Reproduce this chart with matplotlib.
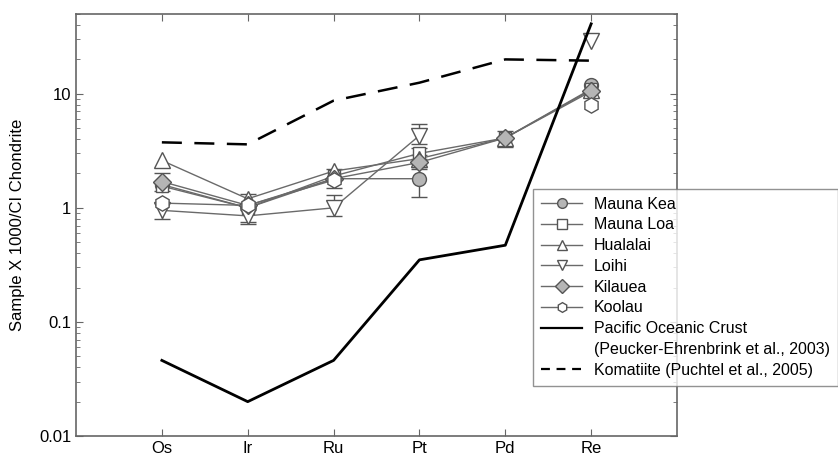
import numpy as np
import matplotlib.pyplot as plt
from matplotlib.lines import Line2D

plt.rcParams['font.family'] = ['Liberation Sans', 'DejaVu Sans']

# Data
elements = ['Os', 'Ir', 'Ru', 'Pt', 'Pd', 'Re']

mauna_kea = [1.6, 1.0, 1.8, 1.8, np.nan, 12.0]
mauna_loa = [1.55, 1.0, 1.9, 3.0, 4.1, 11.0]
hualalai = [2.6, 1.2, 2.1, 2.7, 4.1, 10.8]
loihi = [0.95, 0.85, 1.0, 4.3, np.nan, 29.0]
kilauea = [1.7, 1.05, 1.8, 2.5, 4.1, 10.5]
koolau = [1.1, 1.05, 1.75, np.nan, np.nan, 7.9]

# error bar bounds (low, high), nan where no bar
mauna_kea_lo = [np.nan, np.nan, np.nan, 1.25, np.nan, np.nan]
mauna_kea_hi = [np.nan, np.nan, np.nan, 2.3, np.nan, np.nan]
mauna_loa_lo = [np.nan, np.nan, np.nan, 2.7, np.nan, np.nan]
mauna_loa_hi = [np.nan, np.nan, np.nan, 3.35, np.nan, np.nan]
loihi_lo = [0.8, 0.75, 0.85, 3.6, np.nan, np.nan]
loihi_hi = [1.1, 0.95, 1.3, 5.4, np.nan, np.nan]
kilauea_lo = [1.4, 0.72, 1.5, 2.2, 3.4, np.nan]
kilauea_hi = [2.0, 1.33, 2.2, 2.9, 4.7, np.nan]

pacific_crust = [0.046, 0.02, 0.046, 0.35, 0.47, 41.0]
komatiite = [3.75, 3.6, 8.7, 12.5, 20.0, 19.5]

x = np.arange(1, len(elements) + 1)

fig = plt.figure(figsize=(8.38, 4.59), dpi=100)
ax = fig.add_axes([0.0907, 0.0501, 0.7172, 0.9194])

line_col = '#6a6a6a'
edge_col = '#555555'

series = [
    ('Mauna Kea', mauna_kea, 'o', '#b5b5b5', 10, mauna_kea_lo, mauna_kea_hi),
    ('Mauna Loa', mauna_loa, 's', 'white', 9, mauna_loa_lo, mauna_loa_hi),
    ('Hualalai', hualalai, '^', 'white', 11, None, None),
    ('Loihi', loihi, 'v', 'white', 11, loihi_lo, loihi_hi),
    ('Kilauea', kilauea, 'D', '#b5b5b5', 9, kilauea_lo, kilauea_hi),
    ('Koolau', koolau, 'h', 'white', 11, None, None),
]

handles = []
for name, vals, mk, fc, ms, lo, hi in series:
    vals = np.array(vals, dtype=float)
    if lo is not None:
        lo = np.array(lo, dtype=float)
        hi = np.array(hi, dtype=float)
        ok = ~np.isnan(lo)
        ax.errorbar(x[ok], vals[ok], yerr=[vals[ok] - lo[ok], hi[ok] - vals[ok]],
                    fmt='none', ecolor=edge_col, elinewidth=1.0, capsize=6, capthick=1.0, zorder=2)
    ax.plot(x, vals, color=line_col, linewidth=1.0, zorder=3)
    ax.plot(x, vals, linestyle='none', marker=mk, markersize=ms, markerfacecolor=fc,
            markeredgecolor=edge_col, markeredgewidth=1.0, zorder=4)
    handles.append(Line2D([0], [0], color=line_col, linewidth=1.0, marker=mk, markersize=7,
                          markerfacecolor=fc, markeredgecolor=edge_col, label=name))

ax.plot(x, pacific_crust, color='black', linewidth=2.0, zorder=5)
ax.plot(x, komatiite, color='black', linewidth=1.8, dashes=(8, 5), zorder=5)

handles.append(Line2D([0], [0], color='black', linewidth=1.6,
                      label='Pacific Oceanic Crust'))
handles.append(Line2D([0], [0], color='none', label='(Peucker-Ehrenbrink et al., 2003)'))
handles.append(Line2D([0], [0], color='black', linewidth=1.6, dashes=(4, 3),
                      label='Komatiite (Puchtel et al., 2005)'))

ax.set_yscale('log')
ax.set_ylim(0.01, 50)
ax.set_xlim(0, 7)
ax.set_xticks(x)
ax.set_xticklabels(elements, fontsize=12)
ax.set_yticks([0.01, 0.1, 1, 10])
ax.set_yticklabels(['0.01', '0.1', '1', '10'], fontsize=12)
ax.tick_params(which='both', direction='in', top=True, right=True, color='#666666')
ax.tick_params(which='major', length=5)
ax.tick_params(which='minor', length=3)
ax.tick_params(axis='x', which='minor', bottom=False, top=False)
for sp in ax.spines.values():
    sp.set_color('#666666')
    sp.set_linewidth(1.2)

ax.set_ylabel('Sample X 1000/CI Chondrite', fontsize=12, labelpad=10)

leg = fig.legend(handles=handles, loc='upper left', bbox_to_anchor=(0.636, 0.589),
                 bbox_transform=fig.transFigure, fontsize=11.5, frameon=True, fancybox=False,
                 handlelength=2.6, handletextpad=0.7, labelspacing=0.36, borderpad=0.5,
                 borderaxespad=0)
leg.get_frame().set_edgecolor('#777777')
leg.get_frame().set_linewidth(1.0)

fig.savefig('out.png', dpi=100)
